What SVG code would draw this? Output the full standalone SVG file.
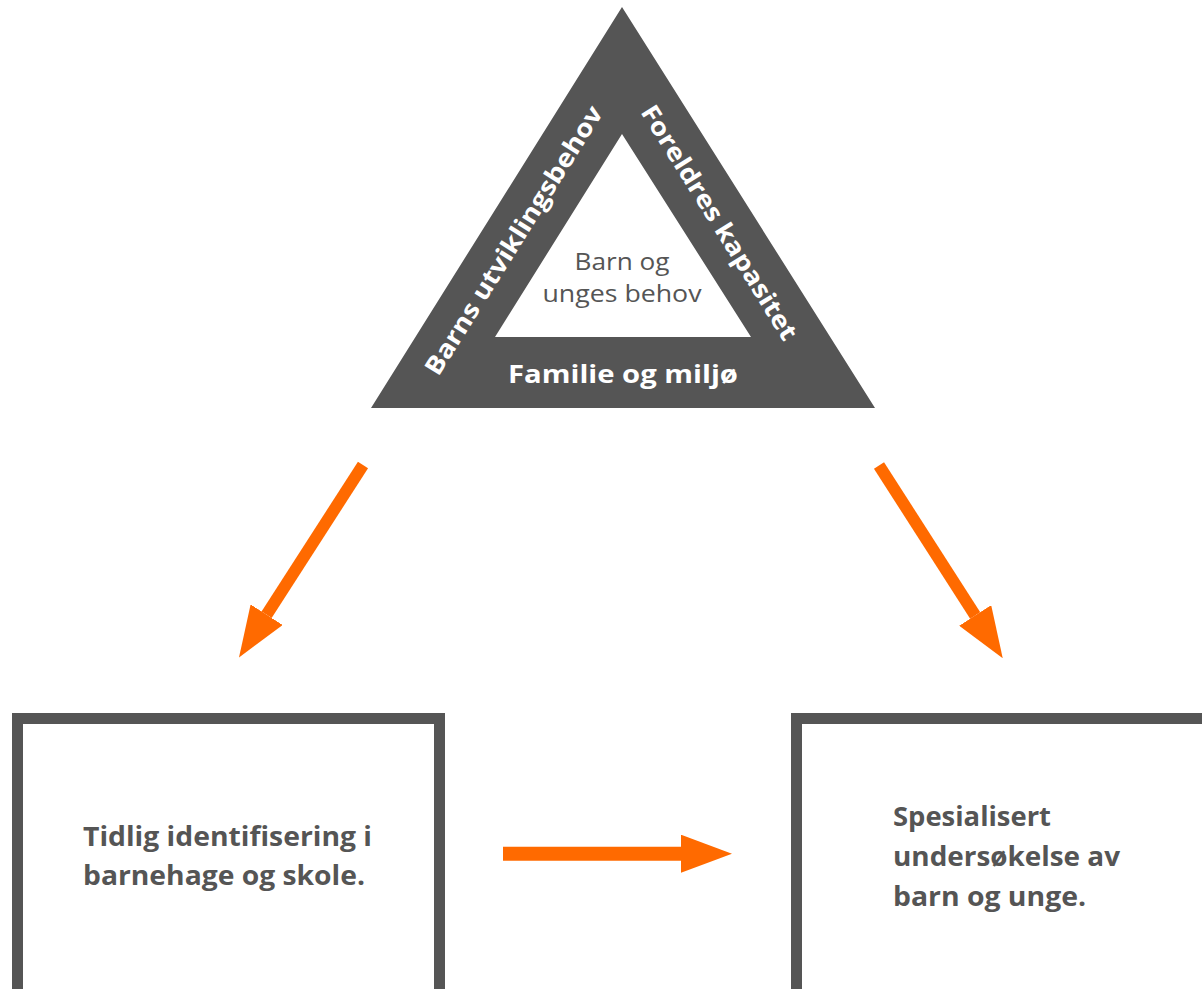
<svg xmlns="http://www.w3.org/2000/svg" width="1202" height="989" viewBox="0 0 1202 989">
  <style>
    .tri { fill: #555555; fill-rule: evenodd; }
    .box { fill: #ffffff; stroke: #555555; stroke-width: 11; }
    .lbl { font-family: "Open Sans", "Liberation Sans", sans-serif; font-weight: 700; fill: #555555; font-size: 26px; }
    .wlbl { font-family: "Open Sans", "Liberation Sans", sans-serif; font-weight: 700; fill: #ffffff; font-size: 25px; }
    .inner { font-family: "Open Sans", "Liberation Sans", sans-serif; font-weight: 400; fill: #555555; font-size: 23px; }
    .conn { stroke: #FF6A00; fill: none; }
  </style>
  <defs>
    <marker id="head" viewBox="0 0 51 38" refX="0" refY="19" markerWidth="51" markerHeight="38" markerUnits="userSpaceOnUse" orient="auto">
      <path d="M0,0 L51,19 L0,38 Z" fill="#FF6A00"/>
    </marker>
  </defs>

  <g id="triangle">
    <path class="tri" d="M622,7 L875,408 L371,408 Z M622,134 L495,337 L751,337 Z"/>
    <text class="inner" x="622" y="270" text-anchor="middle" textLength="95" lengthAdjust="spacingAndGlyphs">Barn og</text>
    <text class="inner" x="622" y="302" text-anchor="middle" textLength="159" lengthAdjust="spacingAndGlyphs">unges behov</text>
    <text class="wlbl" x="623" y="383" text-anchor="middle" textLength="230" lengthAdjust="spacingAndGlyphs">Familie og miljø</text>
    <text class="wlbl" x="521" y="245" text-anchor="middle" transform="rotate(-58 521 245)" textLength="312" lengthAdjust="spacingAndGlyphs">Barns utviklingsbehov</text>
    <text class="wlbl" x="712" y="227" text-anchor="middle" transform="rotate(58 712 227)" textLength="272" lengthAdjust="spacingAndGlyphs">Foreldres kapasitet</text>
  </g>

  <g id="box-left">
    <rect class="box" x="17.5" y="718.5" width="422" height="285"/>
    <text class="lbl" x="83" y="846" textLength="289" lengthAdjust="spacingAndGlyphs">Tidlig identifisering i</text>
    <text class="lbl" x="83" y="885" textLength="282" lengthAdjust="spacingAndGlyphs">barnehage og skole.</text>
  </g>

  <g id="box-right">
    <rect class="box" x="796.5" y="718.5" width="420" height="285"/>
    <text class="lbl" x="893" y="826" textLength="158" lengthAdjust="spacingAndGlyphs">Spesialisert</text>
    <text class="lbl" x="893" y="866" textLength="227" lengthAdjust="spacingAndGlyphs">undersøkelse av</text>
    <text class="lbl" x="893" y="906" textLength="193" lengthAdjust="spacingAndGlyphs">barn og unge.</text>
  </g>

  <g id="connectors">
    <line class="conn" stroke-width="12" x1="363" y1="465" x2="266.6" y2="614.7" marker-end="url(#head)"/>
    <line class="conn" stroke-width="12" x1="879" y1="465.5" x2="975.2" y2="615.4" marker-end="url(#head)"/>
    <line class="conn" stroke-width="14" x1="503" y1="853.7" x2="681" y2="853.7" marker-end="url(#head)"/>
  </g>
</svg>
